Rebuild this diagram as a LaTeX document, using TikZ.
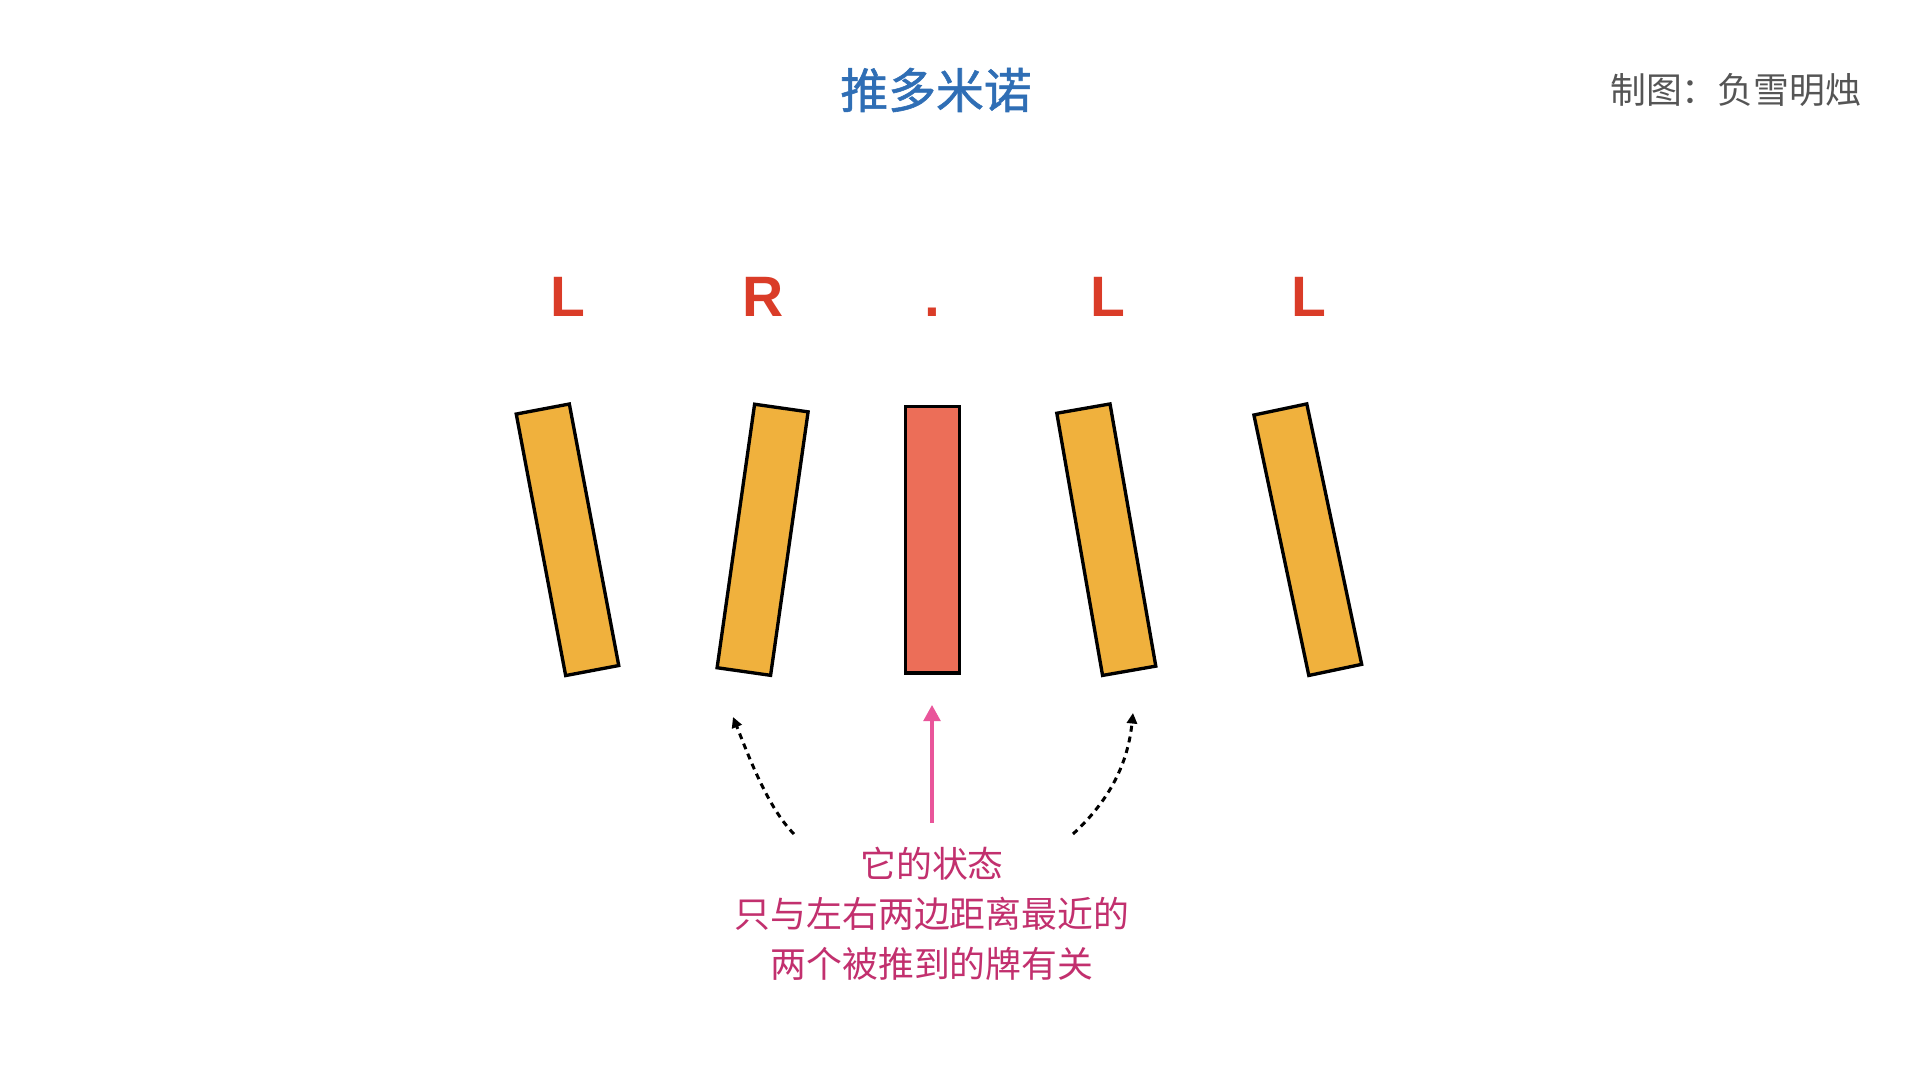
\documentclass[tikz,border=0pt]{standalone}
\usepackage{fontspec}
\setmainfont{Liberation Sans}
\newfontfamily\cjk{Noto Sans CJK SC}
\newfontfamily\cjktitle{Noto Sans CJK SC}[FakeBold=1.2]
\usetikzlibrary{arrows.meta}
\definecolor{domorange}{HTML}{F0B13D}
\definecolor{domred}{HTML}{EC6E58}
\definecolor{labred}{HTML}{DA3C28}
\definecolor{arrpink}{HTML}{E9559A}
\definecolor{txtmag}{HTML}{C2306E}
\definecolor{titleblue}{HTML}{2F6EB5}
\definecolor{creditgray}{HTML}{555555}
\tikzset{
  domino/.style={draw=black, line width=0.95pt, fill=domorange, inner sep=0pt,
    minimum width=0.54cm, minimum height=2.66cm},
  lab/.style={text=labred, font=\fontsize{16.2pt}{16.2pt}\selectfont\bfseries, anchor=base, inner sep=0pt},
  dasharrow/.style={draw=black, line width=0.85pt, dash pattern=on 1.7pt off 1.4pt,
    -{Triangle[width=2.9pt,length=3pt]}},
  pinkarrow/.style={draw=arrpink, line width=0.9pt, -{Triangle[width=4.8pt,length=4.6pt]}},
}
\begin{document}
\begin{tikzpicture}[x=0.01cm, y=-0.01cm]
\useasboundingbox[fill=white] (0,0) rectangle (1920,1080);
% title and credit
\node[text=titleblue, font=\cjktitle\fontsize{13.6pt}{13.6pt}\selectfont] (title) at (936,90) {推多米诺};
\node[text=creditgray, font=\cjk\fontsize{10.2pt}{10.2pt}\selectfont, anchor=east, inner sep=0pt] (credit) at (1862,90) {制图：负雪明烛};
% labels
\node[lab] (l1) at (568,317) {L};
\node[lab] (l2) at (763,317) {R};
\node[lab] (l3) at (932,317) {.};
\node[lab] (l4) at (1108,317) {L};
\node[lab] (l5) at (1309,317) {L};
% dominoes
\node[domino, rotate=10.7] (d1) at (567.5,539.8) {};
\node[domino, rotate=-8.1] (d2) at (762.6,539.8) {};
\node[domino, fill=domred] (d3) at (932.5,539.8) {};
\node[domino, rotate=9.9] (d4) at (1106.3,539.7) {};
\node[domino, rotate=11.9] (d5) at (1307.8,539.7) {};
% explanation text
\node[text=txtmag, font=\cjk\fontsize{10.2pt}{14.2pt}\selectfont, align=center, anchor=north] (expl) at (932,835)
  {它的状态\\只与左右两边距离最近的\\两个被推到的牌有关};
% arrows
\coordinate (pstart) at (932,823);
\coordinate (pend) at (932,705);
\draw[pinkarrow] (pstart) -- (pend);
\coordinate (lstart) at (794,834);
\coordinate (lend) at (733,717);
\draw[dasharrow] (lstart) .. controls (768,808) and (749,757) .. (lend);
\coordinate (rstart) at (1073,834);
\coordinate (rend) at (1133,713);
\draw[dasharrow] (rstart) .. controls (1110,800) and (1128,763) .. (rend);
\end{tikzpicture}
\end{document}
